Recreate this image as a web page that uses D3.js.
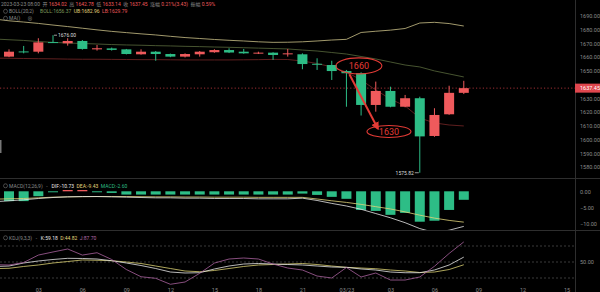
<!DOCTYPE html>
<html lang="zh">
<head>
<meta charset="UTF-8">
<title>ETH 1H K线</title>
<script src="https://d3js.org/d3.v7.min.js"></script>
<style>
  body { margin: 0; background: #000; }
  svg { display: block; }
  text { font-family: Roboto, "Noto Sans CJK SC", sans-serif; }
</style>
</head>
<body>
<svg width="600" height="292"></svg>
<script>
// hourly candles, 2023-03-22 00:00 .. 2023-03-23 08:00 (first one sits off the left edge)
const hours = [
  "03-22 00", "03-22 01", "03-22 02", "03-22 03", "03-22 04", "03-22 05", "03-22 06", "03-22 07",
  "03-22 08", "03-22 09", "03-22 10", "03-22 11", "03-22 12", "03-22 13", "03-22 14", "03-22 15",
  "03-22 16", "03-22 17", "03-22 18", "03-22 19", "03-22 20", "03-22 21", "03-22 22", "03-22 23",
  "03-23 00", "03-23 01", "03-23 02", "03-23 03", "03-23 04", "03-23 05", "03-23 06", "03-23 07",
  "03-23 08"
];
const opens = [1659.0, 1660.4, 1664.2, 1664.0, 1671.0, 1670.1, 1671.8, 1665.7, 1666.4, 1665.7, 1662.1,
  1664.0, 1662.3, 1660.4, 1662.1, 1663.6, 1665.2, 1664.0, 1662.8, 1663.3, 1662.1, 1662.1, 1655.2,
  1654.3, 1649.9, 1648.3, 1625.2, 1635.4, 1623.9, 1630.1, 1602.6, 1618.4, 1634.02];
const highs = [1662.0, 1665.7, 1668.2, 1673.8, 1676.0, 1673.8, 1672.5, 1668.9, 1667.0, 1666.0, 1665.7,
  1664.5, 1662.6, 1662.8, 1664.5, 1665.8, 1666.5, 1666.0, 1664.0, 1663.6, 1666.0, 1662.8, 1659.2,
  1657.4, 1650.7, 1649.0, 1642.2, 1638.5, 1632.5, 1631.2, 1622.8, 1639.2, 1642.78];
const lows = [1658.0, 1660.0, 1662.8, 1662.8, 1670.3, 1668.4, 1665.5, 1664.8, 1664.8, 1662.0, 1661.8,
  1657.4, 1660.0, 1659.8, 1660.4, 1663.2, 1663.0, 1662.5, 1662.3, 1658.0, 1660.4, 1651.2, 1650.7,
  1643.4, 1623.9, 1617.5, 1620.3, 1623.5, 1623.5, 1575.82, 1602.0, 1618.0, 1633.14];
const closes = [1661.0, 1664.0, 1663.8, 1670.8, 1670.6, 1671.8, 1666.0, 1666.5, 1665.3, 1662.3, 1664.0,
  1662.3, 1660.4, 1662.3, 1664.0, 1665.2, 1663.4, 1662.8, 1663.3, 1661.6, 1662.8, 1655.0, 1654.8,
  1649.9, 1648.3, 1625.2, 1635.4, 1623.9, 1630.1, 1602.3, 1617.9, 1634.02, 1637.45];

// BOLL(20,2)
const bollUp = [1687.8, 1686.5, 1685.6, 1684.6, 1683.4, 1682.3, 1681.1, 1679.9, 1678.8, 1677.9, 1677.0,
  1676.2, 1675.2, 1674.3, 1673.6, 1672.9, 1672.3, 1671.8, 1671.2, 1670.8, 1670.9, 1671.2, 1671.8,
  1672.5, 1673.0, 1678.0, 1678.9, 1679.7, 1680.9, 1684.9, 1685.4, 1684.5, 1682.7];
const bollMid = [1673.25, 1672.7, 1672.2, 1671.4, 1670.8, 1670.3, 1670.0, 1669.6, 1669.2, 1668.9, 1668.7,
  1668.4, 1668.2, 1667.9, 1667.7, 1667.4, 1667.2, 1666.9, 1666.6, 1666.3, 1666.0, 1665.2, 1664.5,
  1663.4, 1662.3, 1660.5, 1658.7, 1656.5, 1654.3, 1652.9, 1650.0, 1647.8, 1645.6];
const bollLow = [1659.3, 1659.2, 1659.05, 1658.9, 1658.8, 1658.6, 1658.5, 1658.5, 1658.4, 1658.3, 1658.2,
  1658.2, 1658.1, 1658.0, 1658.0, 1658.0, 1658.0, 1658.1, 1658.2, 1658.4, 1658.3, 1657.2, 1655.4,
  1652.9, 1649.2, 1643.4, 1636.1, 1629.5, 1624.5, 1615.7, 1612.1, 1610.6, 1609.9];

// MACD(12,26,9)
const dif = [-3.2, -2.9, -2.6, -2.2, -1.9, -1.7, -1.6, -1.6, -1.7, -1.8, -1.9, -2.0, -2.0, -2.1, -2.1,
  -2.2, -2.2, -2.2, -2.3, -2.3, -2.3, -2.1, -2.8, -3.7, -4.5, -5.5, -6.8, -8.1, -9.6, -11.4, -12.6,
  -11.9, -10.73];
const dea = [-2.4, -2.3, -2.2, -2.0, -1.8, -1.7, -1.65, -1.6, -1.6, -1.6, -1.65, -1.7, -1.7, -1.75,
  -1.75, -1.8, -1.8, -1.8, -1.85, -1.85, -1.85, -1.85, -2.35, -2.9, -3.4, -4.0, -4.7, -5.4, -6.3,
  -7.3, -8.2, -8.9, -9.43];
const macdHist = [-3.0, -3.0, -3.0, -1.5, -0.3, 0.4, 0.4, -0.3, -0.5, -1.0, -1.0, -1.0, -1.0, -1.0,
  -1.0, -1.0, -1.0, -1.0, -1.0, -1.0, -1.0, -0.7, -1.1, -1.7, -2.3, -5.7, -6.0, -7.2, -6.6, -9.3,
  -9.0, -5.7, -2.6];

// KDJ(9,3,3)
const kLine = [41.5, 42.5, 48.1, 51.9, 54.7, 56.9, 56.6, 55.6, 52.4, 48.1, 43.4, 37.8, 31.2, 29.4, 29.9,
  36.9, 42.5, 46.2, 47.2, 46.2, 45.3, 44.4, 42.5, 40.6, 40.0, 36.9, 35.0, 31.2, 29.9, 29.9, 35.0,
  44.4, 59.18];
const dLine = [37.5, 38.2, 41.6, 44.4, 48.1, 50.9, 53.8, 53.2, 52.4, 50.0, 47.2, 42.5, 37.8, 33.1, 31.8,
  34.1, 37.8, 41.6, 44.4, 45.3, 46.2, 47.2, 45.3, 42.5, 40.0, 38.7, 37.4, 35.0, 33.1, 30.3, 31.2,
  35.9, 44.82];
const jLine = [45.0, 44.4, 49.0, 63.0, 68.8, 74.4, 63.0, 67.4, 54.7, 35.9, 22.4, 19.4, 8.2, 12.5, 28.8,
  48.0, 55.6, 57.5, 55.6, 46.2, 38.7, 35.0, 23.7, 20.0, 39.7, 21.9, 29.4, 16.2, 16.2, 21.9, 42.0,
  66.0, 87.7];

// 1640.00 sits under the last-price tag, so it is left out
const priceTicks = [1580, 1590, 1600, 1610, 1620, 1630, 1650, 1660, 1670, 1680, 1690];
const macdTicks = [0, -5, -10];
const kdjLevels = [20, 50, 80];

// hand drawn marks on the chart: [hour index, price]
const noteTop = { label: "1660", at: [24.85, 1653.7] };
const noteBottom = { label: "1630", at: [26.9, 1605.9] };
const arrowFrom = [24.2, 1647.6], arrowTo = [26.15, 1607.8];

const W = 600, H = 292, plotR = 575;
const red = "#ef5a5c", green = "#2dbd86";
const axisGrey = "#8a8a8a";

const svg = d3.select("svg");
svg.append("rect").attr("width", W).attr("height", H).attr("fill", "#000");

const dates = hours.map(s => new Date(2023, +s.slice(0, 2) - 1, +s.slice(3, 5), +s.slice(6, 8)));
const HOUR = 3600e3;
const x = d3.scaleTime()
  .domain([new Date(+dates[0] + 0.3865 * HOUR), new Date(+dates[0] + 39.58 * HOUR)])
  .range([0, plotR]);
const xi = i => x(new Date(+dates[0] + i * HOUR));

const yP = d3.scaleLinear().domain([1580, 1690]).range([167, 16]);
const yM = d3.scaleLinear().domain([-10, 0]).range([224, 191.3]);
const yK = d3.scaleLinear().domain([20, 80]).range([278, 246]);

// panel clip areas
const defs = svg.append("defs");
[["clipMain", 0, 178], ["clipMacd", 179, 230], ["clipKdj", 231, 292]].forEach(([id, y0, y1]) => {
  defs.append("clipPath").attr("id", id)
    .append("rect").attr("x", 0).attr("y", y0).attr("width", plotR).attr("height", y1 - y0);
});

// frame lines
svg.append("line").attr("x1", plotR + 0.5).attr("x2", plotR + 0.5).attr("y1", 0).attr("y2", H)
  .attr("stroke", "#2e2e2e");
[178.5, 230.5].forEach(y => svg.append("line").attr("x1", 0).attr("x2", W)
  .attr("y1", y).attr("y2", y).attr("stroke", "#2e2e2e"));

// ---- main panel
const main = svg.append("g").attr("clip-path", "url(#clipMain)");

const bollLine = arr => d3.line().x((d, i) => x(dates[i])).y(d => yP(d))(arr);
main.append("path").attr("d", bollLine(bollUp)).attr("fill", "none").attr("stroke", "#b3aa78").attr("stroke-width", 0.9);
main.append("path").attr("d", bollLine(bollMid)).attr("fill", "none").attr("stroke", "#4f5e36").attr("stroke-width", 0.9);
main.append("path").attr("d", bollLine(bollLow)).attr("fill", "none").attr("stroke", "#6a2323").attr("stroke-width", 0.9);

const lastClose = closes[closes.length - 1];
main.append("line").attr("x1", 0).attr("x2", plotR).attr("y1", yP(lastClose)).attr("y2", yP(lastClose))
  .attr("stroke", "#c43a40").attr("stroke-width", 0.8).attr("stroke-dasharray", "1.2,2.2");

const candles = dates.map((d, i) => ({ d, o: opens[i], h: highs[i], l: lows[i], c: closes[i] }));
const bodyW = 10;
const cg = main.selectAll(".candle").data(candles).enter().append("g")
  .attr("class", "candle")
  .attr("fill", d => d.c >= d.o ? red : green)
  .attr("stroke", d => d.c >= d.o ? red : green);
cg.append("line")
  .attr("x1", d => x(d.d)).attr("x2", d => x(d.d))
  .attr("y1", d => yP(d.h)).attr("y2", d => yP(d.l))
  .attr("stroke-width", 1);
cg.append("rect")
  .attr("x", d => x(d.d) - bodyW / 2)
  .attr("width", bodyW)
  .attr("y", d => yP(Math.max(d.o, d.c)))
  .attr("height", d => Math.max(1, Math.abs(yP(d.o) - yP(d.c))))
  .attr("stroke", "none");

// high / low markers
const hiIdx = d3.maxIndex(highs.slice(1)) + 1;
const loIdx = d3.minIndex(lows);
main.append("line").attr("x1", x(dates[hiIdx]) + 1).attr("x2", x(dates[hiIdx]) + 4)
  .attr("y1", yP(highs[hiIdx])).attr("y2", yP(highs[hiIdx])).attr("stroke", "#ddd").attr("stroke-width", 0.7);
main.append("text").attr("x", x(dates[hiIdx]) + 5).attr("y", yP(highs[hiIdx]) + 1.8)
  .attr("fill", "#ddd").attr("font-size", 5).text(highs[hiIdx].toFixed(2));
main.append("line").attr("x1", x(dates[loIdx]) - 5).attr("x2", x(dates[loIdx]) - 1)
  .attr("y1", yP(lows[loIdx])).attr("y2", yP(lows[loIdx])).attr("stroke", "#ddd").attr("stroke-width", 0.7);
main.append("text").attr("x", x(dates[loIdx]) - 6).attr("y", yP(lows[loIdx]) + 1.8)
  .attr("text-anchor", "end").attr("fill", "#ddd").attr("font-size", 5).text(lows[loIdx].toFixed(2));

// drawn annotations
const annRed = "#e33b36";
defs.append("marker").attr("id", "arrowHead").attr("viewBox", "0 0 10 10")
  .attr("refX", 8).attr("refY", 5).attr("markerWidth", 4).attr("markerHeight", 4).attr("orient", "auto")
  .append("path").attr("d", "M0,0L10,5L0,10z").attr("fill", annRed);
svg.append("line")
  .attr("x1", xi(arrowFrom[0])).attr("y1", yP(arrowFrom[1]))
  .attr("x2", xi(arrowTo[0])).attr("y2", yP(arrowTo[1]))
  .attr("stroke", annRed).attr("stroke-width", 2).attr("marker-end", "url(#arrowHead)");
[[noteTop, 23, 8], [noteBottom, 22, 6]].forEach(([n, rx, ry]) => {
  const cx = xi(n.at[0]), cy = yP(n.at[1]);
  svg.append("ellipse").attr("cx", cx).attr("cy", cy).attr("rx", rx).attr("ry", ry)
    .attr("fill", "none").attr("stroke", annRed).attr("stroke-width", 1.1);
  svg.append("text").attr("x", cx).attr("y", cy + 3.2).attr("text-anchor", "middle")
    .attr("fill", annRed).attr("font-size", 9).text(n.label);
});

// price axis
const pAxis = svg.append("g").attr("transform", `translate(${plotR},0)`)
  .call(d3.axisRight(yP).tickValues(priceTicks).tickFormat(d3.format(".2f")).tickSize(0).tickPadding(5));
pAxis.select(".domain").remove();
pAxis.selectAll("text").attr("fill", axisGrey).attr("font-size", 5.5).attr("font-family", "Roboto, sans-serif");

// last price tag
svg.append("rect").attr("x", plotR).attr("y", yP(lastClose) - 4.5).attr("width", W - plotR).attr("height", 9)
  .attr("fill", "#e0474e");
svg.append("text").attr("x", plotR + 5).attr("y", yP(lastClose) + 2)
  .attr("fill", "#fff").attr("font-size", 5.5).text(lastClose.toFixed(2));

// ---- MACD panel
const macd = svg.append("g").attr("clip-path", "url(#clipMacd)");
macd.selectAll(".bar").data(macdHist).enter().append("rect")
  .attr("class", "bar")
  .attr("x", (d, i) => x(dates[i]) - bodyW / 2)
  .attr("width", bodyW)
  .attr("y", d => Math.min(yM(d), yM(0)))
  .attr("height", d => Math.max(0.8, Math.abs(yM(d) - yM(0))))
  .attr("fill", d => d >= 0 ? red : green);
const mLine = d3.line().x((d, i) => x(dates[i])).y(d => yM(d));
macd.append("path").attr("d", mLine(dea)).attr("fill", "none").attr("stroke", "#e2d47a").attr("stroke-width", 0.8);
macd.append("path").attr("d", mLine(dif)).attr("fill", "none").attr("stroke", "#e8e8e8").attr("stroke-width", 0.8);

const mAxis = svg.append("g").attr("transform", `translate(${plotR},0)`)
  .call(d3.axisRight(yM).tickValues(macdTicks).tickFormat(d3.format(".2f")).tickSize(0).tickPadding(5));
mAxis.select(".domain").remove();
mAxis.selectAll("text").attr("fill", axisGrey).attr("font-size", 5.5);

// ---- KDJ panel
const kdj = svg.append("g").attr("clip-path", "url(#clipKdj)");
kdj.selectAll(".lvl").data(kdjLevels).enter().append("line")
  .attr("x1", 0).attr("x2", plotR).attr("y1", d => yK(d)).attr("y2", d => yK(d))
  .attr("stroke", "#4a4a4a").attr("stroke-width", 0.8).attr("stroke-dasharray", "2,2");
const kLineGen = d3.line().x((d, i) => x(dates[i])).y(d => yK(d));
kdj.append("path").attr("d", kLineGen(dLine)).attr("fill", "none").attr("stroke", "#d9cf72").attr("stroke-width", 0.8);
kdj.append("path").attr("d", kLineGen(kLine)).attr("fill", "none").attr("stroke", "#e6e6e6").attr("stroke-width", 0.8);
kdj.append("path").attr("d", kLineGen(jLine)).attr("fill", "none").attr("stroke", "#a8619d").attr("stroke-width", 0.8);

const kAxis = svg.append("g").attr("transform", `translate(${plotR},0)`)
  .call(d3.axisRight(yK).tickValues([50]).tickFormat(d3.format(".2f")).tickSize(0).tickPadding(5));
kAxis.select(".domain").remove();
kAxis.selectAll("text").attr("fill", axisGrey).attr("font-size", 5.5);

// time axis
const tAxis = svg.append("g").attr("transform", "translate(0,284)")
  .call(d3.axisBottom(x).ticks(d3.timeHour.every(3))
    .tickFormat(d => d.getHours() === 0 ? d3.timeFormat("%m/%d")(d) : d3.timeFormat("%H")(d))
    .tickSize(0).tickPadding(4));
tAxis.select(".domain").remove();
tAxis.selectAll("text").attr("fill", axisGrey).attr("font-size", 5.5);

// ---- legends
function legend(y, parts, icon) {
  const t = svg.append("text").attr("x", icon ? 9 : 1).attr("y", y).attr("font-size", 5).attr("xml:space", "preserve");
  parts.forEach(([s, col]) => t.append("tspan").attr("fill", col).text(s));
  if (icon) svg.append("circle").attr("cx", 5.5).attr("cy", y - 1.7).attr("r", 2)
    .attr("fill", "none").attr("stroke", axisGrey).attr("stroke-width", 0.5);
  return t;
}
legend(6, [["2023-03-23 08:00  ", axisGrey], ["开 ", axisGrey], ["1634.02  ", red], ["高 ", axisGrey],
  ["1642.78  ", red], ["低 ", axisGrey], ["1633.14  ", red], ["收 ", axisGrey], ["1637.45  ", red],
  ["涨幅 ", axisGrey], ["0.21%(3.43)  ", red], ["振幅 ", axisGrey], ["0.59%", red]]);
legend(13, [["BOLL(20,2)     ", axisGrey], ["BOLL:1656.37  ", "#7f9a5a"], ["UB:1682.96  ", "#e2d47a"],
  ["LB:1629.79", red]], true);
legend(20, [["MA()      ⊗", axisGrey]], true);
legend(187.5, [["MACD(12,26,9)   -   ", axisGrey], ["DIF:-10.73  ", "#e8e8e8"], ["DEA:-9.43  ", "#e2d47a"],
  ["MACD:-2.60", green]], true);
legend(239.5, [["KDJ(9,3,3)   -   ", axisGrey], ["K:59.18  ", "#e8e8e8"], ["D:44.82  ", "#e2d47a"],
  ["J:87.70", "#b46aa8"]], true);

// left edge handle
svg.append("rect").attr("x", 0).attr("y", 140).attr("width", 1.5).attr("height", 13).attr("fill", "#777");
</script>
</body>
</html>
